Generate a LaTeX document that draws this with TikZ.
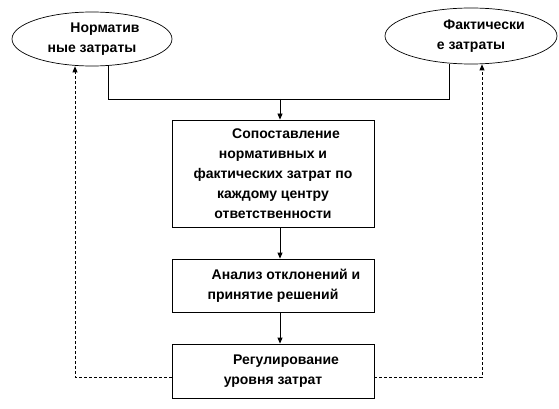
\documentclass[tikz,border=0pt]{standalone}
\usepackage{fontspec}
\setmainfont{Liberation Sans}
\usetikzlibrary{shapes.geometric,arrows.meta}
\begin{document}
\begin{tikzpicture}[x=1pt,y=-1pt,
  every node/.style={font=\bfseries\fontsize{14}{20}\selectfont, align=center, inner sep=0pt},
  oval/.style={ellipse, draw=black, line width=0.7pt},
  box/.style={rectangle, draw=black, line width=0.8pt, minimum width=202pt},
  link/.style={draw=black, line width=0.8pt},
  arr/.style={link, -{Triangle[length=6pt,width=5pt]}},
  dsh/.style={arr, dash pattern=on 3pt off 2pt}]
\useasboundingbox (0,0) rectangle (559,409);
\node[oval, minimum width=160pt, minimum height=54pt] (lE) at (92,39) {\hspace*{26pt}Норматив\\ные затраты};
\node[oval, minimum width=172pt, minimum height=56pt] (rE) at (471,36) {\hspace*{26pt}Фактически\\е затраты};
\node[box, minimum height=107pt] (b1) at (273,173.5) {\hspace*{26pt}Сопоставление\\нормативных и\\фактических затрат по\\каждому центру\\ответственности};
\node[box, minimum height=53pt] (b2) at (273,285.5) {\hspace*{26pt}Анализ отклонений и\\принятие решений};
\node[box, minimum height=54pt] (b3) at (273,371) {\hspace*{26pt}Регулирование\\уровня затрат};
\coordinate (j1) at (108,99);
\coordinate (j2) at (449,99);
\coordinate (jm) at (280,99);
\coordinate (dl) at (75,377);
\coordinate (dr) at (482,377);
\draw[link] (lE.south -| j1) -- (j1) -- (j2) -- (rE.south -| j2);
\draw[arr] (jm) -- (b1.north -| jm);
\draw[arr] (b1.south -| jm) -- (b2.north -| jm);
\draw[arr] (b2.south -| jm) -- (b3.north -| jm);
\draw[dsh] (b3.west |- dl) -- (dl) -- (lE.south -| dl);
\draw[dsh] (b3.east |- dr) -- (dr) -- (rE.south -| dr);
\end{tikzpicture}
\end{document}
